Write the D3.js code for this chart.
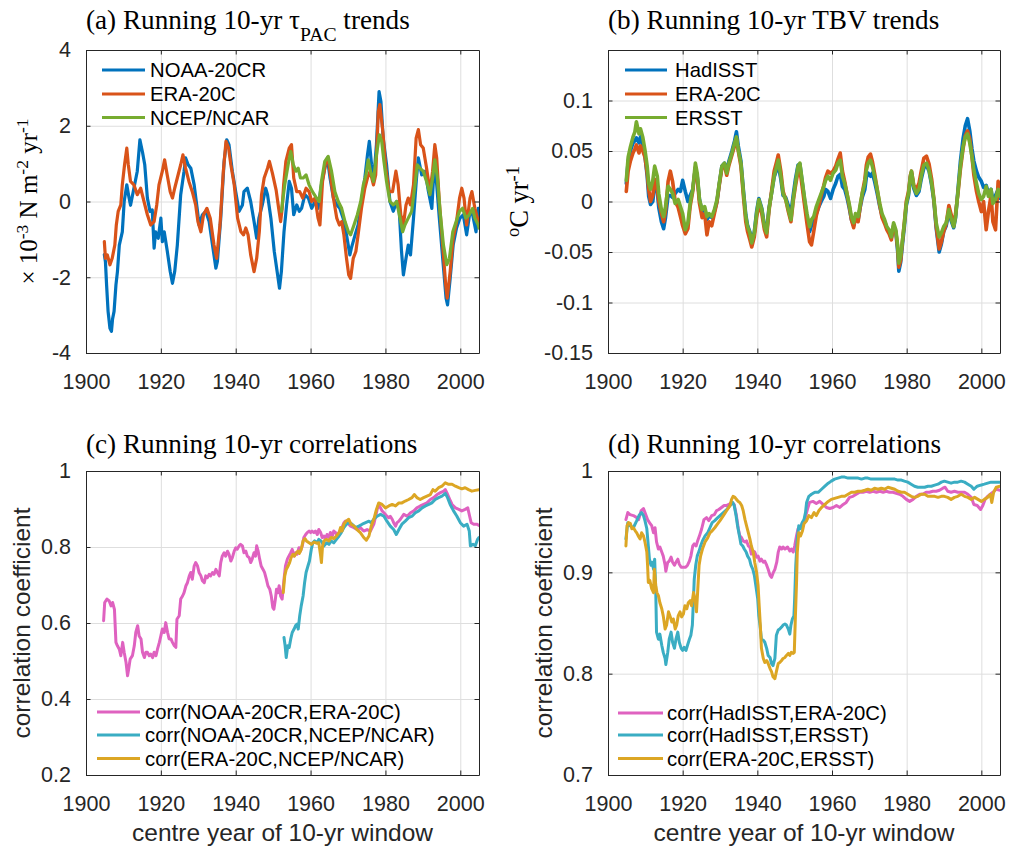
<!DOCTYPE html>
<html>
<head>
<meta charset="utf-8">
<script src="https://cdn.jsdelivr.net/npm/d3@7"></script>
<style>
  body { margin: 0; background: #fff; }
</style>
</head>
<body>
<svg id="fig" width="1010" height="852"></svg>
<script>
// ---------------- shared axis values ----------------
const yearTicks = [1900, 1920, 1940, 1960, 1980, 2000];
const yearTickLabels = ['1900', '1920', '1940', '1960', '1980', '2000'];

const tauTicks = [-4, -2, 0, 2, 4];
const tauTickLabels = ['-4', '-2', '0', '2', '4'];
const tbvTicks = [-0.15, -0.1, -0.05, 0, 0.05, 0.1];
const tbvTickLabels = ['-0.15', '-0.1', '-0.05', '0', '0.05', '0.1'];
const corrTicksC = [0.2, 0.4, 0.6, 0.8, 1];
const corrTickLabelsC = ['0.2', '0.4', '0.6', '0.8', '1'];
const corrTicksD = [0.7, 0.8, 0.9, 1];
const corrTickLabelsD = ['0.7', '0.8', '0.9', '1'];

// ---------------- (a) running 10-yr tau_PAC trends, [centre year, 1e-3 N m-2 yr-1] ----------------
const noaa20cr = [[1904.9,-1.4],[1905.2,-1.6],[1905.5,-2.2],[1905.9,-2.9],[1906.4,-3.35],[1906.8,-3.43],[1907.1,-3.1],[1907.5,-2.9],[1908.0,-2.2],[1908.4,-1.85],[1908.9,-1.15],[1909.7,-0.8],[1910.2,0],[1910.9,0.44],[1911.5,0.1],[1911.9,-0.1],[1912.8,0.35],[1913.7,0.8],[1914.4,1.63],[1915.1,1.3],[1915.7,0.97],[1916.4,0.09],[1917.1,-0.26],[1917.7,-0.22],[1918.2,-1.23],[1918.6,-0.8],[1919.3,-0.97],[1920.0,-0.44],[1920.4,-1.06],[1920.9,-0.8],[1921.7,-1.3],[1922.5,-1.85],[1923.1,-2.16],[1923.7,-1.85],[1924.4,-1.15],[1925.3,0.18],[1926.2,0.8],[1926.6,1.15],[1927.3,0.97],[1928.0,0.88],[1928.9,0.44],[1929.8,-0.26],[1930.2,-0.62],[1931.1,-0.35],[1932.0,-0.26],[1932.9,-0.53],[1933.8,-1.15],[1934.7,-1.76],[1935.1,-1.59],[1936.0,-0.44],[1936.9,1.06],[1937.6,1.63],[1938.2,1.5],[1939.1,0.8],[1940.0,0.26],[1940.9,-0.26],[1941.8,-0.09],[1942.2,0.26],[1943.1,0.35],[1944.0,0],[1944.9,-0.53],[1945.6,-0.97],[1946.2,-0.44],[1947.1,-0.09],[1948.0,0.35],[1948.5,0.18],[1949.4,-0.44],[1950.3,-1.32],[1951.2,-1.94],[1951.7,-2.29],[1952.2,-1.85],[1952.9,-0.8],[1953.6,-0.09],[1954.3,0.53],[1954.9,0.35],[1955.5,-0.35],[1956.3,-0.09],[1957.0,-0.26],[1957.6,-0.18],[1958.5,0.18],[1959.4,0.09],[1960.3,-0.18],[1961.2,0],[1962.0,-0.18],[1962.9,0.44],[1963.8,0.88],[1964.5,1.15],[1965.2,0.62],[1966.1,0.09],[1967.0,-0.09],[1967.8,-0.18],[1968.7,-0.44],[1969.6,-0.88],[1970.5,-1.41],[1970.9,-1.23],[1971.9,-0.88],[1972.7,-0.62],[1973.6,0],[1974.5,0.62],[1975.2,1.23],[1975.7,1.59],[1976.3,0.97],[1976.9,0.62],[1977.6,1.5],[1978.3,2.9],[1978.8,2.64],[1979.4,1.67],[1980.3,0.97],[1981.2,0],[1982.1,-0.26],[1983.0,0],[1983.7,-0.26],[1984.3,-1.32],[1984.8,-1.94],[1985.5,-1.5],[1986.1,-1.15],[1986.7,-1.41],[1987.5,-0.44],[1988.3,0.62],[1988.8,1.15],[1989.7,0.7],[1990.6,0.8],[1991.5,0.26],[1992.4,-0.18],[1993.1,1.06],[1993.7,0.44],[1994.4,-0.44],[1995.3,-1.5],[1996.2,-2.55],[1996.6,-2.73],[1997.3,-2.03],[1998.1,-1.15],[1999.0,-0.7],[1999.9,-0.44],[2000.8,-0.35],[2001.7,-0.88],[2002.6,-0.26],[2003.3,-0.35],[2004.2,-0.8],[2004.8,-0.18],[2005.0,-0.3]];

const era20cTau = [[1904.9,-1.06],[1905.2,-1.5],[1905.7,-1.41],[1906.4,-1.67],[1907.0,-1.5],[1907.7,-1.15],[1908.1,-0.62],[1908.6,-0.26],[1909.3,-0.09],[1909.7,0.44],[1910.3,0.97],[1910.9,1.41],[1911.3,0.97],[1911.9,0.53],[1912.8,0.44],[1913.7,0.18],[1914.6,0.35],[1915.5,0],[1916.4,-0.35],[1917.3,-0.62],[1918.2,-0.53],[1918.9,-0.09],[1919.5,0.44],[1920.4,0.8],[1921.0,1.1],[1921.7,0.7],[1922.5,0.26],[1923.1,0.09],[1923.7,0.35],[1924.6,0.7],[1925.3,0.97],[1925.9,1.23],[1926.6,0.88],[1927.5,0.53],[1928.4,0.26],[1929.3,-0.09],[1929.9,-0.53],[1930.7,-0.8],[1931.4,-0.35],[1932.3,-0.18],[1933.2,-0.44],[1934.2,-1.15],[1934.9,-1.5],[1935.8,-0.62],[1936.7,0.8],[1937.4,1.59],[1938.1,1.41],[1938.7,0.97],[1939.6,0.44],[1940.5,-0.44],[1941.4,-0.8],[1942.1,-0.88],[1942.7,-0.7],[1943.3,-0.88],[1944.0,-1.41],[1944.9,-1.85],[1945.6,-1.5],[1946.3,-0.8],[1946.9,0.18],[1947.6,0.62],[1948.5,0.88],[1949.0,1.06],[1949.8,0.75],[1950.8,0.3],[1951.5,-0.2],[1952.0,-0.53],[1952.4,-0.2],[1952.8,0.44],[1953.4,1.06],[1954.3,1.41],[1954.9,1.5],[1955.5,0.62],[1956.3,0.26],[1957.1,0.26],[1957.9,0.09],[1958.8,0.35],[1959.6,0.26],[1960.3,0],[1961.2,0.09],[1962.0,-0.44],[1962.5,-0.62],[1963.2,0.53],[1964.1,1.06],[1964.7,1.15],[1965.3,0.7],[1966.1,0.09],[1967.0,-0.44],[1967.7,-0.62],[1968.3,-0.53],[1968.9,-0.88],[1969.6,-1.5],[1970.2,-1.94],[1970.7,-2.03],[1971.4,-1.5],[1972.1,-1.32],[1972.7,-0.88],[1973.6,-0.18],[1974.5,0.35],[1975.2,0.62],[1975.9,0.8],[1976.8,0.44],[1977.4,0.7],[1978.1,2.38],[1978.5,2.56],[1979.3,1.85],[1980.1,0.88],[1981.0,0.26],[1981.9,0.26],[1982.8,0.8],[1983.4,0.44],[1984.1,-0.35],[1984.8,-0.62],[1985.5,-0.09],[1986.1,0.09],[1986.7,-0.09],[1987.5,0.44],[1988.2,1.67],[1988.8,1.9],[1989.4,1.5],[1990.1,1.41],[1991.0,0.88],[1991.9,0.26],[1992.6,0.8],[1993.2,1.5],[1993.7,1.15],[1994.4,0],[1995.3,-1.15],[1996.1,-2.2],[1996.5,-2.55],[1997.3,-1.85],[1998.1,-0.97],[1999.0,-0.53],[1999.8,0.09],[2000.4,0.35],[2001.0,0.09],[2001.7,-0.62],[2002.6,0.09],[2003.1,0.26],[2003.9,-0.18],[2004.8,-0.53],[2005.0,-0.55]];

const ncepNcarTau = [[1952.2,-0.26],[1953.1,0.44],[1954.0,0.97],[1954.7,1.32],[1955.4,0.97],[1956.1,0.8],[1956.7,0.88],[1957.3,0.62],[1958.0,0.62],[1958.8,0.7],[1959.6,0.44],[1960.5,0.26],[1961.6,0.09],[1962.3,0],[1962.9,0.53],[1963.8,1.06],[1964.7,1.19],[1965.6,0.8],[1966.5,0.26],[1967.4,0],[1968.3,-0.18],[1969.2,-0.53],[1970.1,-0.8],[1970.7,-0.88],[1971.6,-0.62],[1972.5,-0.35],[1973.4,0],[1974.1,0.44],[1974.8,0.7],[1975.4,1.1],[1976.0,0.8],[1976.8,0.53],[1977.6,1.23],[1978.4,1.76],[1979.0,1.59],[1979.6,1.06],[1980.3,0.53],[1981.2,0],[1982.1,-0.09],[1983.0,0],[1983.9,-0.44],[1984.6,-0.8],[1985.2,-0.62],[1986.1,-0.44],[1987.0,-0.26],[1987.9,0.44],[1988.5,0.97],[1989.2,0.88],[1990.1,0.8],[1991.0,0.53],[1991.9,0.18],[1992.6,0.62],[1993.2,1.1],[1993.9,0.62],[1994.6,-0.26],[1995.5,-1.15],[1996.4,-1.67],[1997.1,-1.5],[1998.0,-0.8],[1998.9,-0.53],[1999.8,-0.26],[2000.6,-0.18],[2001.5,-0.44],[2002.4,-0.35],[2003.3,-0.18],[2003.9,-0.44],[2004.8,-0.62],[2005.0,-0.7]];

// ---------------- (b) running 10-yr TBV trends, degC per yr ----------------
const tbvYears = [1904.9,1905.4,1906.0,1906.7,1907.2,1907.6,1908.3,1908.7,1909.3,1909.9,1910.5,1910.9,1911.4,1912.0,1912.5,1913.2,1913.6,1914.3,1914.9,1915.4,1916.1,1916.7,1917.3,1918.0,1918.8,1919.4,1920.0,1920.7,1921.4,1922.0,1922.7,1923.4,1923.9,1924.5,1925.2,1925.9,1926.5,1927.1,1927.8,1928.5,1929.2,1929.8,1930.5,1931.2,1931.8,1932.4,1933.2,1933.9,1934.4,1934.9,1935.6,1936.3,1936.9,1937.4,1938.0,1938.5,1939.2,1939.8,1940.4,1941.2,1941.9,1942.5,1943.1,1943.8,1944.5,1945.2,1945.6,1946.3,1946.9,1947.6,1948.3,1949.0,1949.6,1950.2,1950.9,1951.4,1952.0,1952.7,1953.3,1954.0,1954.5,1955.1,1955.8,1956.5,1957.1,1957.8,1958.3,1958.9,1959.6,1960.3,1961.0,1961.6,1962.2,1962.8,1963.4,1964.0,1964.6,1965.2,1965.8,1966.3,1967.0,1967.6,1968.1,1968.8,1969.2,1969.7,1970.3,1970.8,1971.4,1972.1,1972.8,1973.4,1974.1,1974.7,1975.3,1975.9,1976.5,1977.1,1977.6,1977.9,1978.4,1978.8,1979.4,1979.9,1980.5,1981.0,1981.3,1981.9,1982.6,1983.3,1983.9,1984.6,1985.3,1986.0,1986.7,1987.3,1987.9,1988.7,1989.3,1989.9,1990.6,1991.3,1992.0,1992.6,1993.1,1993.8,1994.4,1995.1,1995.7,1996.3,1996.9,1997.5,1998.0,1998.7,1999.3,2000.0,2000.6,2001.3,2001.9,2002.6,2003.1,2003.8,2004.5,2005.0];

const hadisst = [0.018,0.040,0.050,0.058,0.060,0.063,0.058,0.064,0.057,0.045,0.025,0.005,-0.003,0.000,0.018,0.010,-0.006,-0.020,-0.027,-0.016,0.006,0.006,0.004,0.008,0.012,0.010,0.021,0.010,0.000,0.006,0.012,0.033,0.025,0.002,-0.010,-0.007,-0.018,-0.014,-0.016,-0.010,0.000,0.017,0.035,0.038,0.030,0.040,0.050,0.060,0.069,0.055,0.040,0.010,-0.013,-0.024,-0.030,-0.040,-0.030,-0.010,0.003,-0.007,-0.024,-0.030,-0.007,0.008,0.024,0.032,0.036,0.022,0.006,0.004,-0.004,-0.012,0.006,0.022,0.036,0.037,0.020,0.000,-0.016,-0.030,-0.024,-0.020,-0.012,-0.005,0.000,0.005,0.012,0.010,0.003,0.012,0.018,0.025,0.027,0.015,0.012,0.004,-0.006,-0.018,-0.024,-0.015,-0.018,-0.005,0.004,0.012,0.024,0.028,0.025,0.028,0.020,0.008,-0.005,-0.014,-0.020,-0.026,-0.030,-0.036,-0.024,-0.030,-0.050,-0.069,-0.060,-0.045,-0.024,-0.004,0.006,0.024,0.028,0.013,0.006,0.010,0.022,0.033,0.036,0.030,0.016,0.000,-0.026,-0.050,-0.042,-0.030,-0.024,-0.010,-0.020,-0.026,-0.016,0.014,0.040,0.062,0.075,0.082,0.070,0.052,0.040,0.030,0.024,0.020,0.014,0.016,0.008,0.012,0.000,0.006,0.012,0.003];

const era20cTbv = [0.010,0.030,0.040,0.048,0.052,0.056,0.048,0.055,0.050,0.044,0.028,0.012,0.000,0.006,0.022,0.012,0.000,-0.012,-0.020,-0.010,0.020,0.030,0.020,0.000,-0.006,-0.015,-0.024,-0.032,-0.027,-0.005,0.010,0.034,0.024,-0.002,-0.016,-0.012,-0.033,-0.020,-0.024,-0.012,0.000,0.016,0.033,0.036,0.026,0.036,0.046,0.055,0.062,0.050,0.035,0.004,-0.020,-0.030,-0.038,-0.045,-0.035,-0.016,-0.002,-0.012,-0.028,-0.035,-0.010,0.010,0.030,0.040,0.046,0.030,0.010,0.002,-0.010,-0.020,0.000,0.015,0.030,0.032,0.015,-0.005,-0.022,-0.040,-0.043,-0.030,-0.014,-0.004,0.006,0.016,0.024,0.030,0.028,0.030,0.035,0.042,0.048,0.030,0.020,0.008,-0.004,-0.018,-0.026,-0.016,-0.020,-0.004,0.008,0.022,0.036,0.044,0.047,0.040,0.028,0.012,-0.004,-0.016,-0.022,-0.028,-0.032,-0.038,-0.024,-0.030,-0.046,-0.065,-0.058,-0.042,-0.020,0.000,0.010,0.026,0.030,0.016,0.012,0.018,0.030,0.043,0.045,0.037,0.022,0.002,-0.024,-0.047,-0.040,-0.030,-0.022,-0.004,-0.014,-0.024,-0.012,0.010,0.032,0.052,0.065,0.070,0.062,0.044,0.026,0.010,0.000,-0.010,0.000,-0.028,-0.010,0.006,-0.020,-0.028,0.020,0.015];

const ersst = [0.021,0.044,0.054,0.064,0.069,0.079,0.067,0.072,0.064,0.051,0.035,0.018,0.012,0.021,0.035,0.025,0.008,-0.008,-0.015,-0.005,0.015,0.012,0.008,-0.002,0.002,-0.005,-0.012,-0.028,-0.021,-0.002,0.012,0.038,0.028,0.002,-0.008,-0.005,-0.015,-0.012,-0.015,-0.008,0.002,0.018,0.035,0.038,0.028,0.038,0.048,0.058,0.064,0.051,0.038,0.008,-0.015,-0.025,-0.031,-0.041,-0.031,-0.012,0.002,-0.008,-0.025,-0.031,-0.008,0.008,0.025,0.035,0.041,0.025,0.008,0.002,-0.008,-0.018,0.002,0.018,0.035,0.038,0.021,0.002,-0.012,-0.025,-0.018,-0.015,-0.005,0.002,0.008,0.015,0.021,0.025,0.021,0.028,0.031,0.038,0.041,0.025,0.018,0.008,-0.002,-0.015,-0.021,-0.012,-0.015,-0.002,0.008,0.018,0.031,0.038,0.041,0.035,0.025,0.012,-0.002,-0.012,-0.018,-0.025,-0.028,-0.035,-0.021,-0.028,-0.044,-0.061,-0.054,-0.041,-0.021,-0.002,0.008,0.025,0.030,0.015,0.008,0.012,0.025,0.036,0.038,0.031,0.018,0.002,-0.021,-0.035,-0.031,-0.025,-0.021,-0.008,-0.018,-0.025,-0.015,0.012,0.035,0.054,0.064,0.067,0.058,0.044,0.031,0.018,0.008,0.002,0.005,0.015,0.005,0.012,-0.002,0.002,0.012,0.005];

// ---------------- (c) running 10-yr correlations of tau_PAC ----------------
const corrNoaaEra = [[1904.7,0.606],[1905.0,0.654],[1905.6,0.663],[1906.2,0.658],[1906.7,0.645],[1907.1,0.654],[1907.6,0.636],[1908.0,0.549],[1908.4,0.54],[1908.9,0.531],[1909.3,0.514],[1909.8,0.549],[1910.2,0.523],[1910.7,0.496],[1911.1,0.461],[1911.4,0.479],[1911.8,0.505],[1912.4,0.514],[1912.9,0.54],[1913.3,0.575],[1913.8,0.593],[1914.2,0.566],[1914.7,0.558],[1915.1,0.523],[1915.6,0.509],[1916.0,0.523],[1916.4,0.523],[1916.9,0.514],[1917.3,0.518],[1917.8,0.509],[1918.2,0.523],[1918.7,0.514],[1919.1,0.531],[1919.6,0.549],[1920.0,0.566],[1920.4,0.584],[1920.9,0.575],[1921.3,0.601],[1921.8,0.575],[1922.2,0.558],[1922.7,0.558],[1923.1,0.549],[1923.6,0.54],[1924.0,0.536],[1924.3,0.61],[1924.9,0.619],[1925.3,0.663],[1925.8,0.671],[1926.2,0.68],[1926.7,0.698],[1927.1,0.706],[1927.6,0.724],[1928.0,0.733],[1928.4,0.715],[1928.9,0.75],[1929.3,0.759],[1929.8,0.75],[1930.2,0.733],[1930.7,0.724],[1931.1,0.711],[1931.6,0.706],[1932.0,0.724],[1932.4,0.719],[1932.9,0.728],[1933.3,0.724],[1933.8,0.733],[1934.2,0.728],[1934.7,0.741],[1935.1,0.733],[1935.6,0.724],[1936.0,0.759],[1936.4,0.776],[1936.9,0.785],[1937.3,0.776],[1937.8,0.789],[1938.2,0.781],[1938.7,0.763],[1939.1,0.772],[1939.6,0.789],[1940.0,0.798],[1940.4,0.794],[1940.9,0.803],[1941.3,0.807],[1941.8,0.803],[1942.2,0.785],[1942.7,0.789],[1943.1,0.776],[1943.6,0.772],[1944.0,0.759],[1944.4,0.768],[1944.9,0.785],[1945.3,0.776],[1945.6,0.803],[1946.0,0.789],[1946.4,0.768],[1946.8,0.75],[1947.3,0.741],[1947.7,0.733],[1948.2,0.715],[1948.6,0.698],[1949.1,0.689],[1949.5,0.671],[1949.9,0.641],[1950.2,0.636],[1950.6,0.663],[1950.9,0.689],[1951.3,0.68],[1951.6,0.698],[1952.0,0.671],[1952.4,0.663],[1952.9,0.715],[1953.3,0.75],[1953.8,0.768],[1954.2,0.776],[1954.7,0.785],[1955.1,0.794],[1955.6,0.776],[1956.0,0.785],[1956.4,0.781],[1956.9,0.798],[1957.3,0.789],[1957.8,0.803],[1958.2,0.825],[1958.7,0.833],[1959.1,0.838],[1959.6,0.842],[1960.0,0.838],[1960.4,0.842],[1960.9,0.838],[1961.3,0.842],[1961.8,0.833],[1962.2,0.846],[1962.7,0.838],[1963.1,0.825],[1963.6,0.829],[1964.0,0.82],[1964.4,0.833],[1964.9,0.825],[1965.3,0.838],[1965.8,0.829],[1966.2,0.842],[1966.7,0.838],[1967.1,0.829],[1967.6,0.838],[1968.0,0.842],[1968.4,0.851],[1968.9,0.864],[1969.3,0.868],[1969.8,0.864],[1970.2,0.86],[1970.7,0.855],[1971.6,0.851],[1972.4,0.846],[1973.3,0.851],[1974.2,0.842],[1975.1,0.846],[1976.0,0.842],[1976.9,0.86],[1977.8,0.899],[1978.2,0.912],[1978.7,0.903],[1979.1,0.895],[1979.6,0.89],[1980.4,0.881],[1980.9,0.877],[1981.3,0.881],[1981.8,0.873],[1982.2,0.864],[1982.7,0.855],[1983.1,0.864],[1983.6,0.868],[1984.0,0.873],[1984.9,0.886],[1985.8,0.881],[1986.7,0.89],[1987.6,0.895],[1988.4,0.903],[1989.3,0.908],[1990.2,0.912],[1991.1,0.916],[1992.0,0.925],[1992.9,0.93],[1993.8,0.938],[1994.7,0.943],[1995.6,0.947],[1996.0,0.951],[1996.4,0.943],[1997.2,0.925],[1997.8,0.912],[1998.7,0.903],[1999.6,0.899],[2000.4,0.895],[2001.3,0.899],[2002.0,0.903],[2002.5,0.881],[2002.9,0.864],[2003.6,0.86],[2004.4,0.86],[2005.0,0.857]];

const corrNoaaNcep = [[1952.9,0.562],[1953.2,0.54],[1953.5,0.509],[1953.9,0.54],[1954.3,0.536],[1954.7,0.558],[1955.1,0.575],[1955.6,0.584],[1956.0,0.593],[1956.4,0.597],[1956.7,0.584],[1957.1,0.619],[1957.5,0.645],[1958.0,0.671],[1958.4,0.706],[1958.8,0.733],[1959.3,0.75],[1959.7,0.763],[1960.2,0.794],[1960.6,0.811],[1961.1,0.816],[1961.8,0.811],[1962.2,0.82],[1962.8,0.816],[1963.6,0.803],[1964.3,0.811],[1964.9,0.807],[1965.5,0.816],[1966.2,0.811],[1966.9,0.82],[1967.6,0.829],[1968.2,0.838],[1968.9,0.851],[1969.6,0.86],[1970.2,0.864],[1971.1,0.86],[1972.0,0.851],[1972.9,0.855],[1973.8,0.86],[1974.7,0.864],[1975.6,0.868],[1976.2,0.864],[1976.9,0.873],[1977.8,0.881],[1978.7,0.886],[1979.6,0.881],[1980.4,0.868],[1981.3,0.855],[1982.2,0.846],[1982.9,0.833],[1983.6,0.846],[1984.4,0.86],[1985.3,0.868],[1986.2,0.877],[1987.1,0.881],[1988.0,0.89],[1988.9,0.895],[1989.8,0.903],[1990.7,0.908],[1991.6,0.912],[1992.4,0.916],[1993.3,0.925],[1994.2,0.93],[1995.1,0.934],[1996.0,0.941],[1996.6,0.93],[1997.3,0.912],[1998.2,0.895],[1999.1,0.881],[2000.0,0.864],[2000.9,0.855],[2001.8,0.86],[2002.4,0.842],[2002.7,0.803],[2003.4,0.807],[2004.0,0.803],[2004.6,0.82],[2005.0,0.825]];

const corrEraNcep = [[1952.7,0.68],[1953.1,0.724],[1953.5,0.741],[1954.0,0.75],[1954.4,0.759],[1954.8,0.772],[1955.3,0.781],[1955.7,0.776],[1956.2,0.785],[1956.6,0.789],[1957.0,0.783],[1957.5,0.794],[1958.0,0.816],[1958.5,0.822],[1958.9,0.816],[1959.6,0.811],[1960.2,0.807],[1960.9,0.813],[1961.6,0.81],[1962.2,0.811],[1962.7,0.776],[1962.9,0.759],[1963.2,0.803],[1963.6,0.816],[1964.3,0.82],[1964.9,0.816],[1965.5,0.825],[1966.2,0.822],[1966.9,0.829],[1967.6,0.838],[1968.0,0.851],[1968.4,0.842],[1968.9,0.86],[1969.5,0.868],[1970.2,0.873],[1970.8,0.86],[1971.6,0.855],[1972.4,0.846],[1973.3,0.838],[1974.2,0.825],[1974.9,0.818],[1975.6,0.829],[1976.2,0.855],[1976.9,0.873],[1977.6,0.899],[1978.2,0.916],[1979.1,0.912],[1980.0,0.903],[1980.9,0.908],[1981.8,0.912],[1982.7,0.908],[1983.6,0.916],[1984.4,0.916],[1985.3,0.921],[1986.2,0.925],[1987.1,0.93],[1987.7,0.938],[1988.4,0.93],[1989.3,0.925],[1990.2,0.93],[1991.1,0.934],[1992.0,0.938],[1992.7,0.951],[1993.3,0.947],[1994.2,0.956],[1995.1,0.96],[1996.0,0.969],[1996.9,0.965],[1997.8,0.965],[1998.7,0.96],[1999.6,0.956],[2000.4,0.953],[2001.3,0.956],[2002.2,0.951],[2003.1,0.947],[2004.0,0.949],[2005.0,0.951]];

// ---------------- (d) running 10-yr correlations of TBV ----------------
const corrHadEra = [[1904.8,0.952],[1905.3,0.959],[1905.9,0.957],[1906.8,0.956],[1907.7,0.954],[1908.2,0.952],[1908.9,0.961],[1909.5,0.963],[1909.9,0.959],[1910.6,0.952],[1911.3,0.948],[1911.7,0.946],[1912.2,0.939],[1912.6,0.944],[1913.0,0.93],[1913.5,0.923],[1913.9,0.925],[1914.4,0.92],[1914.8,0.916],[1915.3,0.907],[1915.5,0.901],[1916.0,0.91],[1916.4,0.911],[1916.9,0.915],[1917.3,0.91],[1917.8,0.907],[1918.2,0.91],[1918.7,0.913],[1919.1,0.908],[1919.6,0.905],[1920.2,0.905],[1920.8,0.905],[1921.3,0.907],[1921.8,0.911],[1922.2,0.916],[1922.7,0.926],[1923.1,0.928],[1923.6,0.926],[1924.0,0.931],[1924.5,0.936],[1925.1,0.943],[1925.7,0.952],[1926.4,0.954],[1927.0,0.951],[1927.8,0.956],[1928.5,0.957],[1929.1,0.961],[1929.7,0.962],[1930.4,0.964],[1931.1,0.966],[1931.8,0.966],[1932.4,0.967],[1933.1,0.969],[1933.8,0.967],[1934.4,0.956],[1934.9,0.943],[1935.3,0.936],[1935.8,0.934],[1936.2,0.931],[1936.7,0.93],[1937.1,0.931],[1937.6,0.926],[1938.0,0.925],[1938.4,0.918],[1938.9,0.921],[1939.3,0.92],[1939.8,0.915],[1940.2,0.916],[1940.7,0.911],[1941.1,0.913],[1941.6,0.91],[1942.0,0.911],[1942.5,0.907],[1942.9,0.903],[1943.4,0.897],[1943.8,0.895],[1944.3,0.9],[1944.7,0.903],[1945.2,0.91],[1945.6,0.92],[1946.0,0.925],[1946.5,0.923],[1946.9,0.925],[1947.4,0.923],[1948.1,0.925],[1948.7,0.921],[1949.1,0.923],[1949.6,0.92],[1950.0,0.926],[1950.5,0.936],[1950.9,0.943],[1951.4,0.944],[1952.0,0.948],[1952.7,0.952],[1953.4,0.962],[1954.0,0.969],[1954.9,0.97],[1955.8,0.968],[1956.7,0.97],[1957.6,0.967],[1958.5,0.964],[1959.4,0.963],[1960.3,0.964],[1961.2,0.966],[1962.1,0.964],[1963.0,0.967],[1963.8,0.969],[1964.7,0.974],[1965.6,0.975],[1966.5,0.977],[1967.4,0.979],[1968.3,0.979],[1969.2,0.98],[1970.1,0.979],[1971.0,0.98],[1971.9,0.979],[1972.8,0.98],[1973.7,0.979],[1974.5,0.98],[1975.4,0.979],[1976.3,0.979],[1977.2,0.978],[1978.1,0.977],[1979.0,0.975],[1979.9,0.972],[1980.8,0.97],[1981.7,0.972],[1982.6,0.975],[1983.5,0.977],[1984.3,0.977],[1985.2,0.979],[1986.1,0.979],[1987.0,0.98],[1987.9,0.98],[1988.8,0.981],[1989.7,0.983],[1990.3,0.984],[1991.0,0.98],[1991.9,0.979],[1992.8,0.98],[1993.7,0.979],[1994.6,0.979],[1995.5,0.979],[1996.4,0.977],[1997.3,0.974],[1998.0,0.967],[1998.9,0.966],[1999.8,0.962],[2000.4,0.966],[2001.0,0.972],[2001.7,0.975],[2002.4,0.977],[2003.1,0.979],[2004.0,0.982],[2005.0,0.981]];

const corrHadErsst = [[1904.8,0.933],[1905.3,0.949],[1905.9,0.946],[1906.8,0.944],[1907.7,0.951],[1908.3,0.956],[1909.0,0.959],[1909.5,0.956],[1909.9,0.951],[1910.4,0.943],[1910.8,0.926],[1911.1,0.913],[1911.5,0.907],[1911.8,0.91],[1912.2,0.903],[1912.5,0.913],[1912.8,0.88],[1913.0,0.841],[1913.5,0.834],[1913.9,0.839],[1914.4,0.828],[1914.8,0.821],[1915.3,0.815],[1915.5,0.809],[1916.0,0.821],[1916.4,0.834],[1916.9,0.841],[1917.3,0.831],[1917.8,0.825],[1918.2,0.834],[1918.7,0.841],[1919.1,0.831],[1919.6,0.825],[1920.0,0.823],[1920.4,0.826],[1920.9,0.823],[1921.3,0.828],[1921.8,0.834],[1922.2,0.838],[1922.6,0.848],[1922.9,0.874],[1923.1,0.893],[1923.5,0.907],[1923.9,0.916],[1924.4,0.921],[1924.8,0.926],[1925.3,0.931],[1926.0,0.936],[1926.7,0.939],[1927.3,0.944],[1927.9,0.949],[1928.6,0.951],[1929.4,0.954],[1930.0,0.956],[1930.9,0.959],[1931.8,0.962],[1932.7,0.966],[1933.4,0.969],[1933.8,0.966],[1934.3,0.956],[1934.7,0.946],[1935.2,0.936],[1935.6,0.928],[1936.1,0.926],[1936.5,0.923],[1937.0,0.92],[1937.4,0.916],[1937.9,0.913],[1938.3,0.907],[1938.8,0.903],[1939.2,0.897],[1939.6,0.887],[1940.1,0.874],[1940.4,0.857],[1940.7,0.848],[1941.1,0.834],[1941.6,0.833],[1942.0,0.831],[1942.5,0.825],[1942.9,0.818],[1943.4,0.816],[1943.8,0.81],[1944.2,0.808],[1944.7,0.815],[1945.1,0.838],[1945.6,0.843],[1946.0,0.844],[1946.5,0.846],[1946.9,0.848],[1947.4,0.849],[1947.8,0.848],[1948.3,0.844],[1948.7,0.839],[1949.0,0.848],[1949.4,0.854],[1949.8,0.857],[1950.0,0.874],[1950.3,0.907],[1950.7,0.933],[1951.1,0.946],[1951.6,0.943],[1952.0,0.949],[1952.5,0.952],[1952.9,0.959],[1953.2,0.969],[1953.8,0.975],[1954.5,0.977],[1955.4,0.979],[1956.3,0.979],[1957.2,0.982],[1958.1,0.985],[1959.0,0.988],[1959.8,0.99],[1960.7,0.992],[1961.6,0.993],[1962.5,0.994],[1963.4,0.994],[1964.3,0.993],[1965.2,0.993],[1966.1,0.993],[1967.0,0.993],[1967.9,0.992],[1968.8,0.993],[1969.6,0.993],[1970.5,0.992],[1971.4,0.992],[1972.3,0.992],[1973.2,0.992],[1974.1,0.992],[1975.0,0.992],[1975.9,0.992],[1976.8,0.992],[1977.7,0.991],[1978.6,0.991],[1979.4,0.99],[1980.3,0.989],[1981.2,0.987],[1982.1,0.985],[1983.0,0.984],[1983.9,0.984],[1984.8,0.984],[1985.7,0.985],[1986.6,0.985],[1987.5,0.986],[1988.4,0.987],[1989.3,0.989],[1990.1,0.99],[1991.0,0.989],[1991.9,0.988],[1992.8,0.989],[1993.7,0.989],[1994.6,0.99],[1995.5,0.989],[1996.4,0.987],[1997.3,0.985],[1998.0,0.982],[1998.9,0.985],[1999.8,0.986],[2000.8,0.987],[2001.7,0.988],[2002.6,0.989],[2003.5,0.989],[2005.0,0.989]];

const corrEraErsst = [[1904.8,0.926],[1905.1,0.946],[1905.5,0.949],[1906.0,0.948],[1906.4,0.943],[1906.8,0.944],[1907.3,0.941],[1907.7,0.939],[1908.1,0.936],[1908.6,0.933],[1909.0,0.939],[1909.5,0.936],[1909.9,0.93],[1910.4,0.92],[1910.6,0.907],[1910.8,0.89],[1911.2,0.892],[1911.7,0.884],[1912.2,0.88],[1912.4,0.903],[1912.8,0.887],[1913.1,0.88],[1913.5,0.877],[1913.9,0.87],[1914.4,0.864],[1914.8,0.857],[1915.3,0.844],[1915.7,0.848],[1916.2,0.861],[1916.6,0.857],[1917.1,0.851],[1917.5,0.854],[1918.0,0.844],[1918.4,0.848],[1918.8,0.857],[1919.3,0.861],[1919.7,0.856],[1920.2,0.859],[1920.6,0.867],[1921.1,0.864],[1921.5,0.87],[1922.0,0.872],[1922.4,0.867],[1922.9,0.88],[1923.3,0.874],[1923.7,0.861],[1924.0,0.88],[1924.4,0.907],[1924.8,0.916],[1925.3,0.923],[1926.0,0.93],[1926.7,0.934],[1927.3,0.939],[1927.9,0.941],[1928.6,0.944],[1929.4,0.948],[1930.0,0.951],[1930.9,0.956],[1931.8,0.961],[1932.7,0.966],[1933.1,0.972],[1933.5,0.975],[1934.0,0.974],[1934.4,0.972],[1934.9,0.97],[1935.3,0.969],[1935.8,0.966],[1936.2,0.961],[1936.7,0.952],[1937.1,0.946],[1937.6,0.939],[1938.0,0.933],[1938.4,0.926],[1938.9,0.92],[1939.3,0.91],[1939.8,0.9],[1940.2,0.887],[1940.5,0.867],[1940.8,0.848],[1941.1,0.825],[1941.6,0.815],[1942.0,0.811],[1942.5,0.813],[1942.9,0.81],[1943.4,0.805],[1943.8,0.802],[1944.2,0.797],[1944.7,0.795],[1945.1,0.802],[1945.6,0.81],[1946.0,0.811],[1946.5,0.813],[1946.9,0.815],[1947.4,0.816],[1947.8,0.818],[1948.3,0.82],[1948.7,0.818],[1949.1,0.821],[1949.6,0.82],[1949.9,0.821],[1950.2,0.857],[1950.5,0.89],[1950.7,0.92],[1951.1,0.939],[1951.6,0.936],[1952.1,0.941],[1952.5,0.948],[1953.2,0.951],[1953.8,0.956],[1954.5,0.954],[1955.2,0.959],[1955.8,0.956],[1956.5,0.961],[1957.2,0.964],[1958.1,0.967],[1959.0,0.97],[1959.8,0.972],[1960.7,0.973],[1961.6,0.974],[1962.5,0.975],[1963.4,0.975],[1964.3,0.977],[1965.2,0.979],[1966.1,0.979],[1967.0,0.98],[1967.9,0.98],[1968.8,0.981],[1969.6,0.982],[1970.5,0.981],[1971.4,0.983],[1972.3,0.982],[1973.2,0.983],[1974.1,0.982],[1975.0,0.984],[1975.9,0.983],[1976.8,0.982],[1977.7,0.98],[1978.6,0.979],[1979.4,0.979],[1980.3,0.977],[1981.2,0.975],[1982.1,0.974],[1983.0,0.975],[1983.9,0.977],[1984.8,0.977],[1985.7,0.975],[1986.6,0.975],[1987.5,0.975],[1988.4,0.974],[1989.3,0.975],[1990.1,0.975],[1991.0,0.974],[1991.9,0.972],[1992.8,0.974],[1993.7,0.975],[1994.6,0.977],[1995.5,0.975],[1996.4,0.974],[1997.3,0.972],[1998.2,0.974],[1999.1,0.972],[2000.0,0.97],[2000.8,0.972],[2001.7,0.974],[2002.4,0.977],[2002.8,0.969],[2003.3,0.979],[2004.0,0.984],[2005.0,0.985]];

// ---------------- styling ----------------
const SANS = "'Liberation Sans', Arial, Helvetica, sans-serif";
const SERIF = "'Liberation Serif', 'Times New Roman', serif";
const AXIS_COLOR = '#262626';
const GRID_COLOR = '#dedede';
const BLUE = '#0072bd', ORANGE = '#d95319', GREEN = '#77ac30';
const PINK = '#df62c0', TEAL = '#3aadc3', GOLD = '#dca624';

const svg = d3.select('#fig');
const defs = svg.append('defs');

const panels = [
  {
    id: 'a', left: 86, right: 479, top: 50, bottom: 353,
    yDomain: [-4, 4], yTicks: tauTicks, yLabels: tauTickLabels, lineWidth: 3.2,
    series: [
      { name: 'NOAA-20CR', color: BLUE, data: noaa20cr },
      { name: 'ERA-20C', color: ORANGE, data: era20cTau },
      { name: 'NCEP/NCAR', color: GREEN, data: ncepNcarTau }
    ],
    legend: { x0: 16, x1: 59, tx: 64, rows: [20, 44, 67.5] },
    title: [{ t: '(a) Running 10-yr \u03c4' }, { t: 'PAC', sub: true }, { t: ' trends' }],
    titleY: 29,
    ylabel: { kind: 'serif', x: 37, size: 25, parts: [
      { t: '\u00d7 10' }, { t: '-3', sup: true }, { t: ' N m' }, { t: '-2', sup: true }, { t: ' yr' }, { t: '-1', sup: true }
    ] },
    xlabel: false
  },
  {
    id: 'b', left: 608, right: 1000, top: 50, bottom: 353,
    yDomain: [-0.15, 0.15], yTicks: tbvTicks, yLabels: tbvTickLabels, lineWidth: 3.6,
    series: [
      { name: 'HadISST', color: BLUE, data: tbvYears.map((yr, i) => [yr, hadisst[i]]) },
      { name: 'ERA-20C', color: ORANGE, data: tbvYears.map((yr, i) => [yr, era20cTbv[i]]) },
      { name: 'ERSST', color: GREEN, data: tbvYears.map((yr, i) => [yr, ersst[i]]) }
    ],
    legend: { x0: 17, x1: 59, tx: 67, rows: [20, 44, 67.5] },
    title: [{ t: '(b) Running 10-yr TBV trends' }],
    titleY: 29,
    ylabel: { kind: 'serif', x: 528, size: 26.5, parts: [
      { t: 'o', sup: true }, { t: 'C yr' }, { t: '-1', sup: true }
    ] },
    xlabel: false
  },
  {
    id: 'c', left: 86, right: 479, top: 471, bottom: 775,
    yDomain: [0.2, 1], yTicks: corrTicksC, yLabels: corrTickLabelsC, lineWidth: 3,
    series: [
      { name: 'corr(NOAA-20CR,ERA-20C)', color: PINK, data: corrNoaaEra },
      { name: 'corr(NOAA-20CR,NCEP/NCAR)', color: TEAL, data: corrNoaaNcep },
      { name: 'corr(ERA-20C,NCEP/NCAR)', color: GOLD, data: corrEraNcep }
    ],
    legend: { x0: 11, x1: 54, tx: 59, rows: [241, 264, 287.5] },
    title: [{ t: '(c) Running 10-yr correlations' }],
    titleY: 452.5,
    ylabel: { kind: 'sans', x: 30, size: 24.5, parts: [{ t: 'correlation coefficient' }] },
    xlabel: true
  },
  {
    id: 'd', left: 608, right: 1000, top: 471, bottom: 775,
    yDomain: [0.7, 1], yTicks: corrTicksD, yLabels: corrTickLabelsD, lineWidth: 3,
    series: [
      { name: 'corr(HadISST,ERA-20C)', color: PINK, data: corrHadEra },
      { name: 'corr(HadISST,ERSST)', color: TEAL, data: corrHadErsst },
      { name: 'corr(ERA-20C,ERSST)', color: GOLD, data: corrEraErsst }
    ],
    legend: { x0: 10, x1: 55, tx: 59, rows: [242, 264, 287.5] },
    title: [{ t: '(d) Running 10-yr correlations' }],
    titleY: 452.5,
    ylabel: { kind: 'sans', x: 552, size: 24.5, parts: [{ t: 'correlation coefficient' }] },
    xlabel: true
  }
];

const TICK_FONT = 21.5;
const TICK_LEN = 4.5;
const TITLE_FONT = 27.2;

panels.forEach(p => {
  const x = d3.scaleLinear().domain([1900, 2005]).range([p.left, p.right]);
  const y = d3.scaleLinear().domain(p.yDomain).range([p.bottom, p.top]);
  const w = p.right - p.left, h = p.bottom - p.top;
  const g = svg.append('g').attr('class', 'panel-' + p.id);

  // grid lines
  const gx = g.append('g').attr('transform', `translate(0,${p.bottom})`)
    .call(d3.axisBottom(x).tickValues(yearTicks).tickSize(-h).tickFormat(''));
  const gy = g.append('g').attr('transform', `translate(${p.left},0)`)
    .call(d3.axisLeft(y).tickValues(p.yTicks).tickSize(-w).tickFormat(''));
  [gx, gy].forEach(s => {
    s.select('.domain').remove();
    s.selectAll('line').attr('stroke', GRID_COLOR).attr('stroke-width', 1);
  });

  // data lines, clipped to the axes box
  const clipId = 'clip-' + p.id;
  defs.append('clipPath').attr('id', clipId)
    .append('rect').attr('x', p.left).attr('y', p.top).attr('width', w).attr('height', h);
  const line = d3.line().x(d => x(d[0])).y(d => y(d[1]));
  const lg = g.append('g').attr('clip-path', `url(#${clipId})`);
  p.series.forEach(s => {
    lg.append('path').datum(s.data)
      .attr('d', line)
      .attr('fill', 'none')
      .attr('stroke', s.color)
      .attr('stroke-width', p.lineWidth)
      .attr('stroke-linejoin', 'round')
      .attr('stroke-linecap', 'round');
  });

  // box and inward ticks on all four sides
  const axB = g.append('g').attr('transform', `translate(0,${p.bottom})`)
    .call(d3.axisBottom(x).tickValues(yearTicks).tickSizeInner(-TICK_LEN).tickSizeOuter(0)
      .tickPadding(20.5).tickFormat((d, i) => yearTickLabels[i]));
  const axT = g.append('g').attr('transform', `translate(0,${p.top})`)
    .call(d3.axisTop(x).tickValues(yearTicks).tickSizeInner(-TICK_LEN).tickSizeOuter(0).tickFormat(''));
  const axL = g.append('g').attr('transform', `translate(${p.left},0)`)
    .call(d3.axisLeft(y).tickValues(p.yTicks).tickSizeInner(-TICK_LEN).tickSizeOuter(0)
      .tickPadding(15).tickFormat((d, i) => p.yLabels[i]));
  const axR = g.append('g').attr('transform', `translate(${p.right},0)`)
    .call(d3.axisRight(y).tickValues(p.yTicks).tickSizeInner(-TICK_LEN).tickSizeOuter(0).tickFormat(''));
  [axB, axT, axL, axR].forEach(s => {
    s.select('.domain').attr('stroke', AXIS_COLOR).attr('stroke-width', 1);
    s.selectAll('.tick line').attr('stroke', AXIS_COLOR).attr('stroke-width', 1);
    s.selectAll('text').attr('fill', AXIS_COLOR).style('font-family', SANS).style('font-size', TICK_FONT + 'px');
  });

  // legend
  p.series.forEach((s, i) => {
    const ly = p.top + p.legend.rows[i];
    g.append('line')
      .attr('x1', p.left + p.legend.x0).attr('x2', p.left + p.legend.x1)
      .attr('y1', ly).attr('y2', ly)
      .attr('stroke', s.color).attr('stroke-width', 3.2);
    g.append('text')
      .attr('x', p.left + p.legend.tx).attr('y', ly).attr('dy', '0.36em')
      .style('font-family', SANS).style('font-size', '20.3px').attr('fill', '#000')
      .text(s.name);
  });

  // title (left-aligned with the axes)
  const tt = g.append('text').attr('x', p.left).attr('y', p.titleY)
    .style('font-family', SERIF).style('font-size', TITLE_FONT + 'px').attr('fill', '#000');
  p.title.forEach(part => {
    const ts = tt.append('tspan').text(part.t);
    if (part.sub) ts.attr('dy', 12).style('font-size', '19.7px');
    else if (tt.selectAll('tspan').size() > 1) ts.attr('dy', -12);
  });

  // y label
  const cy = (p.top + p.bottom) / 2;
  const yl = g.append('text')
    .attr('transform', `translate(${p.ylabel.x},${cy}) rotate(-90)`)
    .attr('text-anchor', 'middle')
    .style('font-family', p.ylabel.kind === 'serif' ? SERIF : SANS)
    .style('font-size', p.ylabel.size + 'px')
    .attr('fill', p.ylabel.kind === 'serif' ? '#000' : AXIS_COLOR);
  let raised = false;
  p.ylabel.parts.forEach(part => {
    const ts = yl.append('tspan').text(part.t);
    if (part.sup) {
      ts.attr('dy', raised ? 0 : -9).style('font-size', (p.ylabel.size * 0.7) + 'px');
      raised = true;
    } else {
      if (raised) ts.attr('dy', 9);
      raised = false;
    }
  });

  // x label
  if (p.xlabel) {
    g.append('text')
      .attr('x', (p.left + p.right) / 2).attr('y', 841)
      .attr('text-anchor', 'middle')
      .style('font-family', SANS).style('font-size', '24.5px').attr('fill', AXIS_COLOR)
      .text('centre year of 10-yr window');
  }
});
</script>
</body>
</html>
